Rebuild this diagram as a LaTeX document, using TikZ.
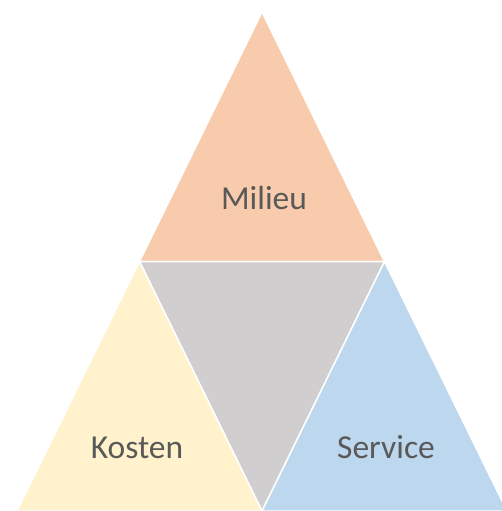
\documentclass[tikz,border=0pt]{standalone}
\usepackage{fontspec}
\setmainfont{Carlito}
\definecolor{cOrange}{HTML}{F8CBAD}
\definecolor{cGray}{HTML}{D0CECE}
\definecolor{cYellow}{HTML}{FFF2CC}
\definecolor{cBlue}{HTML}{BDD7EE}
\definecolor{cText}{HTML}{595959}
\begin{document}
\begin{tikzpicture}[x=1pt,y=-1pt,
  part/.style={draw=white,line width=1.5pt,line join=miter},
  label/.style={text=cText,font=\fontsize{33.5}{38}\selectfont,inner sep=0pt,anchor=base}]
\useasboundingbox (0,0) rectangle (502,511);
\coordinate (A) at (262,12);
\coordinate (BL) at (17,511);
\coordinate (BR) at (507,511);
\coordinate (ML) at (139.5,261.5);
\coordinate (MR) at (384.5,261.5);
\coordinate (MB) at (262,511);
\fill[white] (0,0) rectangle (502,511);
\filldraw[part,fill=cOrange] (A) -- (ML) -- (MR) -- cycle;
\filldraw[part,fill=cGray] (ML) -- (MR) -- (MB) -- cycle;
\filldraw[part,fill=cYellow] (ML) -- (BL) -- (MB) -- cycle;
\filldraw[part,fill=cBlue] (MR) -- (MB) -- (BR) -- cycle;
\node[label] (milieu) at (264,209) {Milieu};
\node[label] (kosten) at (137,458) {Kosten};
\node[label] (service) at (386,458) {Service};
\end{tikzpicture}
\end{document}
